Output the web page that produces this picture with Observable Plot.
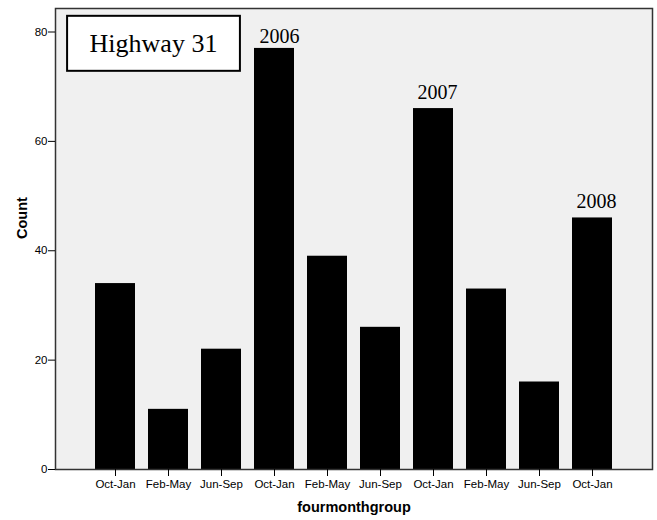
<!DOCTYPE html>
<html>
<head>
<meta charset="utf-8">
<script src="https://cdn.jsdelivr.net/npm/d3@7"></script>
<script src="https://cdn.jsdelivr.net/npm/@observablehq/plot@0.6"></script>
<style>
  html, body { margin: 0; padding: 0; background: #fff; }
  #chart svg { display: block; }
</style>
</head>
<body>
<div id="chart"></div>
<script>
// Data
const periods = ["Oct-Jan","Feb-May","Jun-Sep","Oct-Jan","Feb-May","Jun-Sep","Oct-Jan","Feb-May","Jun-Sep","Oct-Jan"];
const counts  = [34, 11, 22, 77, 39, 26, 66, 33, 16, 46];
const yearLabels = ["2006", "2007", "2008"];
const yearBars   = [3, 6, 9];
const yTicks = [0, 20, 40, 60, 80];
const title = "Highway 31";
const xLabel = "fourmonthgroup";
const yLabel = "Count";

const idx = d3.range(periods.length);
const bars = idx.map(i => ({i, period: periods[i], count: counts[i]}));
const years = yearLabels.map((label, k) => ({i: yearBars[k], label, count: counts[yearBars[k]]}));

const sans = "'Liberation Sans', Arial, sans-serif";
const serif = "'Liberation Serif', 'Times New Roman', serif";

const chart = Plot.plot({
  width: 657,
  height: 520,
  marginLeft: 55,
  marginRight: 5,
  marginTop: 8,
  marginBottom: 51,
  style: {fontFamily: sans, fontSize: "11.5px", color: "#000", background: "#fff"},
  x: {type: "band", domain: idx, paddingInner: 0.237, paddingOuter: 0.68, label: null},
  y: {domain: [0, 84.3], label: null},
  marks: [
    Plot.frame({fill: "#f0f0f0"}),
    Plot.barY(bars, {x: "i", y: "count", fill: "#000"}),
    Plot.frame({stroke: "#333", strokeWidth: 1.5}),
    Plot.axisX({ticks: idx, tickFormat: i => periods[i], tickSize: 7, tickPadding: 3, fontSize: 11.5, label: null}),
    Plot.axisY({ticks: yTicks, tickSize: 7, tickPadding: 1, fontSize: 11.5, label: null}),
    Plot.text(years.filter(d => d.i === yearBars[0]), {x: "i", y: "count", text: "label", dx: 5, dy: -5, lineAnchor: "bottom", fontFamily: serif, fontSize: 20, fill: "#000"}),
    Plot.text(years.filter(d => d.i !== yearBars[0]), {x: "i", y: "count", text: "label", dx: 4, dy: -10, lineAnchor: "bottom", fontFamily: serif, fontSize: 20, fill: "#000"}),
    Plot.text([title], {frameAnchor: "top-left", dx: 98, dy: 35, textAnchor: "middle", lineAnchor: "middle", fontFamily: serif, fontSize: 26, fill: "#000"}),
    Plot.text([yLabel], {frameAnchor: "left", dx: -33, rotate: -90, fontWeight: "bold", fontSize: 14.5, fill: "#000"}),
    Plot.text([xLabel], {frameAnchor: "bottom", dy: 42, fontWeight: "bold", fontSize: 14.5, fill: "#000"})
  ]
});
document.getElementById("chart").appendChild(chart);

// Box around the title text
d3.select(chart).selectAll("text").filter(function() { return this.textContent === title; }).each(function() {
  const b = this.getBBox();
  const ctm = this.getCTM();
  const pctm = this.parentNode.getCTM();
  const cx = b.x + b.width / 2 + (ctm ? ctm.e : 0) - (pctm ? pctm.e : 0);
  const cy = b.y + b.height / 2 + (ctm ? ctm.f : 0) - (pctm ? pctm.f : 0);
  const w = b.width + 45, h = 55;
  d3.select(this.parentNode).insert("rect", () => this)
    .attr("x", cx - w / 2).attr("y", cy - h / 2)
    .attr("width", w).attr("height", h)
    .attr("fill", "#fff").attr("stroke", "#000").attr("stroke-width", 2);
});
</script>
</body>
</html>
